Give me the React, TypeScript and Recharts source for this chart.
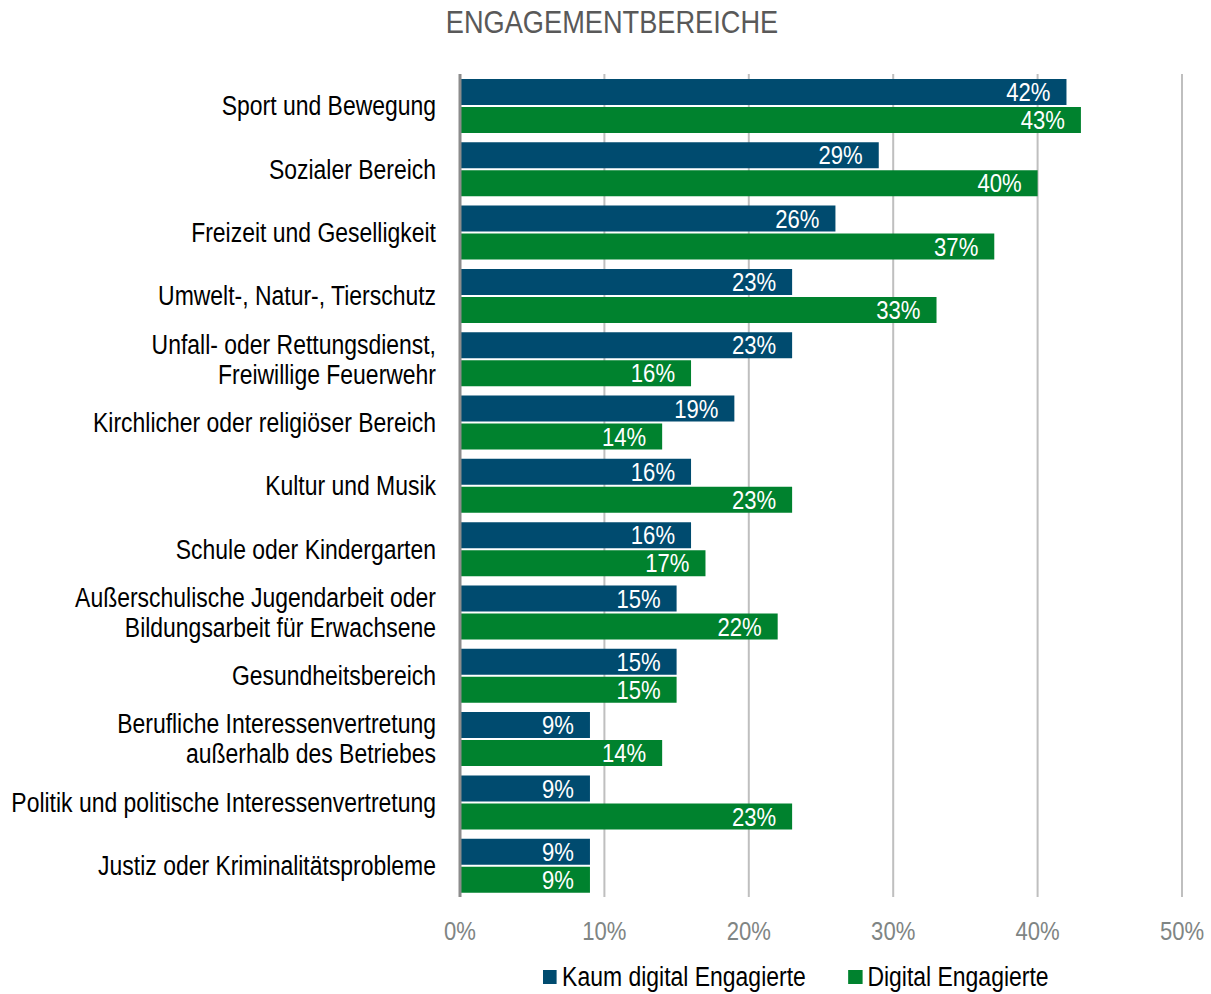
import type { FC } from "react";
import {
  BarChart,
  Bar,
  XAxis,
  YAxis,
  CartesianGrid,
  Legend,
  LabelList,
} from "recharts";

// === Daten ===
const categories = [
  "Sport und Bewegung",
  "Sozialer Bereich",
  "Freizeit und Geselligkeit",
  "Umwelt-, Natur-, Tierschutz",
  "Unfall- oder Rettungsdienst,\nFreiwillige Feuerwehr",
  "Kirchlicher oder religiöser Bereich",
  "Kultur und Musik",
  "Schule oder Kindergarten",
  "Außerschulische Jugendarbeit oder\nBildungsarbeit für Erwachsene",
  "Gesundheitsbereich",
  "Berufliche Interessenvertretung\naußerhalb des Betriebes",
  "Politik und politische Interessenvertretung",
  "Justiz oder Kriminalitätsprobleme",
];
const kaumDigital = [42, 29, 26, 23, 23, 19, 16, 16, 15, 15, 9, 9, 9];
const digital = [43, 40, 37, 33, 16, 14, 23, 17, 22, 15, 14, 23, 9];
const xTicks = [0, 10, 20, 30, 40, 50];

const SERIES = [
  { key: "kaum", name: "Kaum digital Engagierte", color: "#004B6F" },
  { key: "digital", name: "Digital Engagierte", color: "#00822E" },
];

// Arial Narrow ist nicht installiert -> Liberation Sans horizontal gestaucht
const FONT = "'Liberation Sans', Arial, sans-serif";
const NARROW = 0.85;

const chartData = categories.map((name, i) => ({
  name,
  kaum: kaumDigital[i],
  digital: digital[i],
}));

// mehrzeilige Kategorie-Beschriftung, rechtsbündig
const CategoryTick: FC<any> = ({ x, y, payload }) => {
  const lines = String(payload.value).split("\n");
  const lineHeight = 30;
  const startY = -((lines.length - 1) * lineHeight) / 2;
  return (
    <g transform={`translate(${x},${y})`}>
      <text
        transform={`scale(${NARROW},1)`}
        x={0}
        y={startY}
        textAnchor="end"
        fill="#000"
        fontSize={27}
        fontFamily={FONT}
        dominantBaseline="central"
      >
        {lines.map((line, i) => (
          <tspan key={i} x={0} dy={i === 0 ? 0 : lineHeight}>
            {line}
          </tspan>
        ))}
      </text>
    </g>
  );
};

const PercentTick: FC<any> = ({ x, y, payload }) => (
  <g transform={`translate(${x},${y})`}>
    <text
      transform={`scale(${NARROW},1)`}
      x={0}
      y={0}
      dy="0.71em"
      textAnchor="middle"
      fill="#7F8584"
      fontSize={26}
      fontFamily={FONT}
    >
      {`${payload.value}%`}
    </text>
  </g>
);

const ValueLabel: FC<any> = ({ x, y, width, height, value }) => (
  <g transform={`translate(${x + width - 16},${y + height / 2})`}>
    <text
      transform={`scale(${NARROW},1)`}
      x={0}
      y={0}
      textAnchor="end"
      dominantBaseline="central"
      fill="#fff"
      fontSize={26}
      fontFamily={FONT}
    >
      {`${value}%`}
    </text>
  </g>
);

const LegendContent: FC = () => (
  <div
    style={{
      display: "flex",
      alignItems: "center",
      marginLeft: 543,
      paddingTop: 10,
      fontFamily: FONT,
      fontSize: 27,
      lineHeight: "30px",
      color: "#000",
      transform: `scaleX(${NARROW})`,
      transformOrigin: "0 50%",
      whiteSpace: "nowrap",
    }}
  >
    {SERIES.map((s, i) => (
      <div
        key={s.key}
        style={{ display: "flex", alignItems: "center", marginRight: i === 0 ? 50 : 0 }}
      >
        <span
          style={{
            width: 14 / NARROW,
            height: 14,
            background: s.color,
            marginRight: 6,
            display: "inline-block",
          }}
        />
        <span>{s.name}</span>
      </div>
    ))}
  </div>
);

const App: FC = () => {
  return (
    <div style={{ position: "absolute", left: 0, top: 0, width: 1211, height: 994, background: "#fff" }}>
      <div
        style={{
          position: "absolute",
          left: 0,
          width: 1224,
          top: 4,
          textAlign: "center",
          fontFamily: FONT,
          fontSize: 32,
          color: "#595959",
          transform: `scaleX(${NARROW})`,
          transformOrigin: "612px 50%",
        }}
      >
        ENGAGEMENTBEREICHE
      </div>
      <BarChart
        width={1211}
        height={994}
        data={chartData}
        layout="vertical"
        margin={{ top: 74, right: 29, bottom: 0, left: 0 }}
        barCategoryGap={5}
        barGap={2}
      >
        <CartesianGrid horizontal={false} stroke="#BFBFBF" strokeWidth={2} />
        <XAxis
          type="number"
          domain={[0, 50]}
          ticks={xTicks}
          axisLine={false}
          tickLine={false}
          tickMargin={19}
          height={55}
          tick={<PercentTick />}
        />
        <YAxis
          type="category"
          dataKey="name"
          width={460}
          axisLine={{ stroke: "#8C8C8C", strokeWidth: 3 }}
          tickLine={false}
          tick={<CategoryTick />}
          tickMargin={18}
          interval={0}
        />
        <Legend verticalAlign="bottom" height={42} content={<LegendContent />} />
        {SERIES.map((s) => (
          <Bar key={s.key} dataKey={s.key} name={s.name} fill={s.color} isAnimationActive={false}>
            <LabelList dataKey={s.key} content={<ValueLabel />} />
          </Bar>
        ))}
      </BarChart>
    </div>
  );
};

export default App;
